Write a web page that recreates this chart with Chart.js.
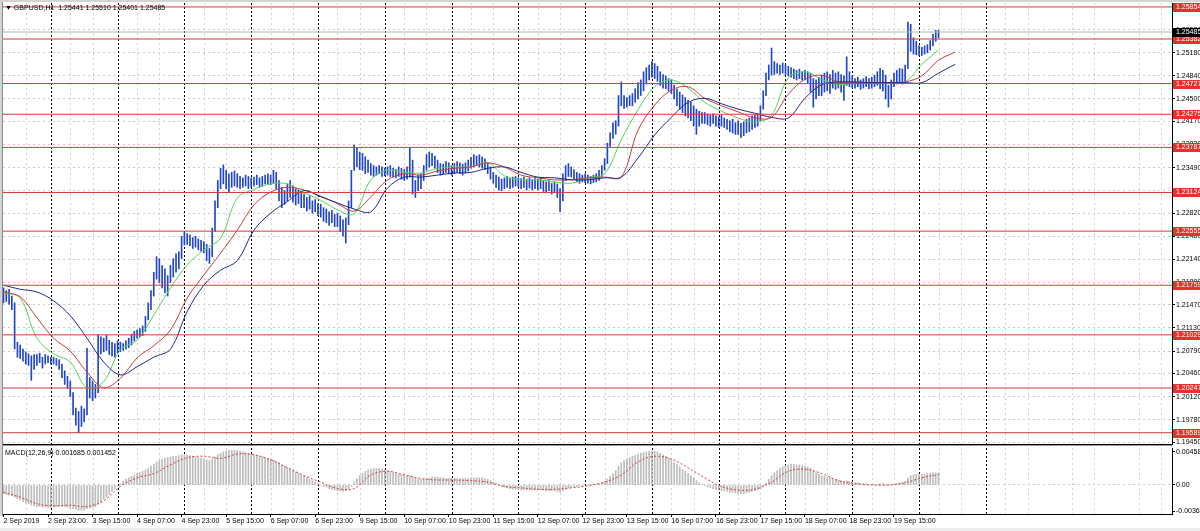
<!DOCTYPE html>
<html>
<head>
<meta charset="utf-8">
<script src="https://cdn.jsdelivr.net/npm/chart.js@4.4.1/dist/chart.umd.min.js"></script>
<style>
  html, body { margin:0; padding:0; background:#fff; }
  #wrap { position:relative; width:1200px; height:531px; overflow:hidden; font-family:"Liberation Sans", Arial, sans-serif; }
  canvas { position:absolute; left:0; }
  #cMain { top:0; }
  #cMacd { top:446px; }
  .txt { position:absolute; font-size:7px; line-height:8px; color:#000; white-space:pre; }
  #frameL { position:absolute; left:0; top:0; width:2px; height:516px; background:#d4d4d4; border-right:1px solid #8a8a8a; }
  #frameT { position:absolute; left:0; top:0; width:1200px; height:2px; background:#d4d4d4; }
  #frameB { position:absolute; left:0; top:528px; width:1200px; height:3px; background:#ececec; }
</style>
</head>
<body>
<div id="wrap">
  <canvas id="cMain" width="1200" height="446"></canvas>
  <canvas id="cMacd" width="1200" height="85"></canvas>
  <div id="frameL"></div><div id="frameT"></div><div id="frameB"></div>
  <div class="txt" style="left:5px;top:4px">▼ GBPUSD,H1  1.25441 1.25510 1.25401 1.25485</div>
  <div class="txt" style="left:5px;top:449px">MACD(12,26,9) 0.001685 0.001452</div>
</div>
<script>
// ---- data: GBPUSD H1, one bar per hour, bar 0 = 2 Sep 07:00 ----
const barHigh = [
  1.2172,1.2168,1.2170,1.2160,1.2150,1.2092, 1.2088,1.2082,1.2078,1.2075,1.2072,1.2074,
  1.2074,1.2076,1.2070,1.2074,1.2072,1.2070, 1.2070,1.2068,1.2066,1.2060,1.2050,1.2042,
  1.2035,1.2018,1.1995,1.1990,1.1998,1.1994, 1.2083,1.2040,1.2035,1.2030,1.2103,1.2100,
  1.2098,1.2102,1.2095,1.2092,1.2090,1.2094, 1.2092,1.2090,1.2094,1.2098,1.2104,1.2108,
  1.2110,1.2112,1.2116,1.2130,1.2150,1.2168, 1.2195,1.2218,1.2215,1.2205,1.2200,1.2190,
  1.2205,1.2215,1.2222,1.2225,1.2248,1.2255, 1.2252,1.2250,1.2246,1.2248,1.2244,1.2242,
  1.2240,1.2236,1.2230,1.2260,1.2300,1.2330, 1.2348,1.2353,1.2345,1.2340,1.2342,1.2344,
  1.2340,1.2336,1.2334,1.2338,1.2336,1.2334, 1.2335,1.2338,1.2334,1.2336,1.2338,1.2340,
  1.2338,1.2345,1.2342,1.2330,1.2320,1.2315, 1.2325,1.2330,1.2322,1.2318,1.2316,1.2312,
  1.2310,1.2305,1.2308,1.2300,1.2302,1.2296, 1.2295,1.2290,1.2288,1.2284,1.2286,1.2280,
  1.2282,1.2278,1.2272,1.2275,1.2300,1.2345, 1.2382,1.2378,1.2372,1.2370,1.2365,1.2360,
  1.2355,1.2352,1.2350,1.2352,1.2350,1.2348, 1.2350,1.2352,1.2348,1.2346,1.2350,1.2348,
  1.2346,1.2350,1.2378,1.2360,1.2330,1.2338, 1.2340,1.2352,1.2368,1.2372,1.2370,1.2366,
  1.2360,1.2355,1.2354,1.2358,1.2356,1.2352, 1.2355,1.2358,1.2356,1.2354,1.2356,1.2360,
  1.2364,1.2368,1.2366,1.2368,1.2365,1.2362, 1.2356,1.2350,1.2342,1.2338,1.2335,1.2332,
  1.2334,1.2336,1.2333,1.2335,1.2336,1.2334, 1.2333,1.2335,1.2332,1.2334,1.2331,1.2333,
  1.2332,1.2334,1.2330,1.2328,1.2330,1.2326, 1.2328,1.2325,1.2318,1.2340,1.2352,1.2355,
  1.2350,1.2346,1.2342,1.2340,1.2338,1.2340, 1.2338,1.2336,1.2338,1.2340,1.2345,1.2352,
  1.2362,1.2385,1.2400,1.2415,1.2418,1.2455, 1.2475,1.2455,1.2452,1.2455,1.2458,1.2465,
  1.2474,1.2478,1.2490,1.2496,1.2500,1.2505, 1.2502,1.2498,1.2490,1.2486,1.2484,1.2480,
  1.2478,1.2470,1.2465,1.2460,1.2456,1.2452, 1.2448,1.2445,1.2440,1.2435,1.2432,1.2430,
  1.2430,1.2428,1.2426,1.2428,1.2425,1.2424, 1.2426,1.2422,1.2420,1.2418,1.2420,1.2415,
  1.2418,1.2414,1.2416,1.2420,1.2422,1.2425, 1.2426,1.2428,1.2440,1.2462,1.2488,1.2500,
  1.2525,1.2505,1.2502,1.2500,1.2503,1.2500, 1.2498,1.2496,1.2494,1.2492,1.2494,1.2490,
  1.2492,1.2490,1.2488,1.2480,1.2478,1.2482, 1.2485,1.2488,1.2490,1.2486,1.2492,1.2488,
  1.2490,1.2486,1.2484,1.2512,1.2490,1.2484, 1.2480,1.2482,1.2478,1.2480,1.2483,1.2480,
  1.2482,1.2485,1.2490,1.2495,1.2492,1.2485, 1.2470,1.2478,1.2488,1.2492,1.2495,1.2494,
  1.2500,1.2563,1.2560,1.2540,1.2535,1.2528, 1.2526,1.2528,1.2530,1.2536,1.2545,1.2551,
  1.2551
];
const barLow = [
  1.2150,1.2152,1.2148,1.2140,1.2082,1.2070, 1.2068,1.2064,1.2060,1.2058,1.2036,1.2052,
  1.2058,1.2062,1.2054,1.2060,1.2062,1.2060, 1.2060,1.2058,1.2052,1.2040,1.2030,1.2024,
  1.2012,1.1985,1.1970,1.1959,1.1968,1.1975, 1.1985,1.2010,1.2006,1.2010,1.2018,1.2075,
  1.2078,1.2080,1.2074,1.2072,1.2070,1.2076, 1.2078,1.2080,1.2082,1.2084,1.2088,1.2094,
  1.2098,1.2100,1.2102,1.2108,1.2125,1.2140, 1.2160,1.2185,1.2180,1.2172,1.2165,1.2160,
  1.2180,1.2188,1.2195,1.2200,1.2215,1.2235, 1.2236,1.2234,1.2230,1.2232,1.2228,1.2226,
  1.2224,1.2212,1.2208,1.2218,1.2255,1.2290, 1.2318,1.2325,1.2318,1.2312,1.2320,1.2322,
  1.2320,1.2318,1.2320,1.2322,1.2318,1.2320, 1.2322,1.2324,1.2320,1.2322,1.2325,1.2324,
  1.2324,1.2326,1.2318,1.2300,1.2290,1.2295, 1.2300,1.2305,1.2298,1.2294,1.2296,1.2290,
  1.2290,1.2285,1.2288,1.2282,1.2284,1.2278, 1.2276,1.2270,1.2268,1.2264,1.2268,1.2262,
  1.2262,1.2255,1.2248,1.2238,1.2265,1.2290, 1.2345,1.2350,1.2346,1.2345,1.2340,1.2342,
  1.2338,1.2336,1.2338,1.2340,1.2336,1.2337, 1.2338,1.2336,1.2335,1.2334,1.2336,1.2332,
  1.2330,1.2332,1.2335,1.2310,1.2305,1.2315, 1.2318,1.2330,1.2345,1.2350,1.2352,1.2348,
  1.2342,1.2338,1.2340,1.2342,1.2340,1.2338, 1.2340,1.2342,1.2340,1.2338,1.2341,1.2344,
  1.2348,1.2350,1.2352,1.2350,1.2348,1.2346, 1.2340,1.2332,1.2326,1.2320,1.2316,1.2315,
  1.2318,1.2320,1.2318,1.2320,1.2322,1.2320, 1.2318,1.2320,1.2316,1.2319,1.2316,1.2318,
  1.2316,1.2318,1.2314,1.2312,1.2315,1.2310, 1.2312,1.2305,1.2284,1.2300,1.2330,1.2336,
  1.2335,1.2332,1.2328,1.2326,1.2328,1.2327, 1.2326,1.2325,1.2327,1.2328,1.2330,1.2336,
  1.2345,1.2355,1.2380,1.2392,1.2398,1.2410, 1.2440,1.2436,1.2438,1.2440,1.2440,1.2445,
  1.2450,1.2455,1.2462,1.2472,1.2478,1.2482, 1.2480,1.2476,1.2470,1.2466,1.2465,1.2462,
  1.2458,1.2450,1.2440,1.2435,1.2430,1.2425, 1.2422,1.2418,1.2410,1.2398,1.2410,1.2414,
  1.2414,1.2412,1.2410,1.2414,1.2410,1.2408, 1.2410,1.2408,1.2405,1.2402,1.2400,1.2398,
  1.2398,1.2393,1.2396,1.2400,1.2402,1.2405, 1.2408,1.2410,1.2418,1.2435,1.2455,1.2478,
  1.2485,1.2486,1.2488,1.2486,1.2488,1.2486, 1.2484,1.2482,1.2480,1.2478,1.2480,1.2478,
  1.2478,1.2474,1.2460,1.2438,1.2450,1.2455, 1.2455,1.2460,1.2462,1.2458,1.2466,1.2464,
  1.2466,1.2460,1.2448,1.2470,1.2468,1.2466, 1.2466,1.2468,1.2464,1.2466,1.2468,1.2465,
  1.2466,1.2468,1.2470,1.2465,1.2462,1.2450, 1.2438,1.2450,1.2468,1.2472,1.2474,1.2472,
  1.2475,1.2495,1.2520,1.2516,1.2515,1.2514, 1.2514,1.2516,1.2518,1.2522,1.2528,1.2535,
  1.2540
];

// Alligator lines, read every maStep bars (green lips, red teeth, blue jaw)
const maStep = 6;
const lips = [1.2165,1.2157,1.2098,1.2075,1.2063,1.2025,1.2034,1.2081,1.2095,1.2132,
  1.2172,1.2206,1.2228,1.2245,1.2304,1.2317,1.2325,1.2325,1.2312,1.2301,
  1.2287,1.2281,1.2331,1.2345,1.2342,1.2341,1.2348,1.2350,1.2350,1.2356,
  1.2337,1.2331,1.2331,1.2328,1.2326,1.2334,1.2340,1.2390,1.2434,1.2468,
  1.2478,1.2466,1.2445,1.2432,1.2422,1.2416,1.2426,1.2481,1.2490,1.2479,
  1.2471,1.2474,1.2474,1.2474,1.2475,1.2501,1.2522];
const teeth = [1.2166,1.2159,1.2128,1.2098,1.2079,1.2048,1.2025,1.2039,1.2069,1.2087,
  1.2110,1.2157,1.2191,1.2223,1.2257,1.2294,1.2313,1.2320,1.2316,1.2307,
  1.2296,1.2285,1.2306,1.2331,1.2340,1.2338,1.2344,1.2348,1.2350,1.2356,
  1.2350,1.2338,1.2334,1.2331,1.2331,1.2334,1.2335,1.2335,1.2404,1.2441,
  1.2463,1.2468,1.2451,1.2440,1.2431,1.2422,1.2423,1.2457,1.2479,1.2485,
  1.2475,1.2474,1.2474,1.2474,1.2475,1.2484,1.2507,1.2519];
const jaw = [1.2176,1.2170,1.2166,1.2153,1.2131,1.2098,1.2063,1.2044,1.2056,1.2070,
  1.2082,1.2137,1.2176,1.2198,1.2212,1.2257,1.2282,1.2299,1.2315,1.2306,
  1.2297,1.2288,1.2284,1.2319,1.2335,1.2335,1.2338,1.2341,1.2342,1.2348,
  1.2350,1.2342,1.2335,1.2334,1.2331,1.2331,1.2334,1.2335,1.2363,1.2397,
  1.2423,1.2445,1.2451,1.2443,1.2435,1.2429,1.2423,1.2422,1.2451,1.2471,
  1.2475,1.2475,1.2474,1.2474,1.2474,1.2474,1.2488,1.2501];

const levels = [1.25854,1.25382,1.24727,1.24275,1.23787,1.23124,1.22555,1.21759,1.21029,1.20247,1.19589];
const bidPrice = 1.25485;
const yTicks = [1.19450,1.19780,1.20120,1.20460,1.20790,1.21130,1.21470,1.21800,1.22140,1.22480,
  1.22820,1.23150,1.23490,1.23830,1.24170,1.24500,1.24840,1.25180,1.25520];

const macdHist = [
  -0.0012,-0.0013,-0.0014,-0.0015,-0.0017,-0.0019, -0.0021,-0.0023,-0.0025,-0.0026,-0.0028,-0.0029,
  -0.0030,-0.0030,-0.0031,-0.0031,-0.0031,-0.0031, -0.0031,-0.0030,-0.0030,-0.0030,-0.0030,-0.0031,
  -0.0032,-0.0033,-0.0034,-0.0035,-0.0035,-0.0035, -0.0033,-0.0032,-0.0031,-0.0030,-0.0027,-0.0024,
  -0.0020,-0.0017,-0.0013,-0.0009,-0.0005,-0.0001, 0.0002,0.0005,0.0008,0.0010,0.0012,0.0014,
  0.0016,0.0017,0.0019,0.0021,0.0023,0.0026, 0.0029,0.0032,0.0034,0.0036,0.0037,0.0038,
  0.0039,0.0040,0.0040,0.0041,0.0042,0.0042, 0.0042,0.0041,0.0040,0.0039,0.0038,0.0037,
  0.0036,0.0035,0.0034,0.0036,0.0039,0.0042, 0.0044,0.0046,0.0047,0.0048,0.0048,0.0048,
  0.0048,0.0047,0.0046,0.0045,0.0044,0.0043, 0.0042,0.0041,0.0040,0.0039,0.0038,0.0037,
  0.0036,0.0035,0.0033,0.0031,0.0028,0.0026, 0.0024,0.0022,0.0020,0.0018,0.0016,0.0014,
  0.0012,0.0010,0.0008,0.0006,0.0004,0.0002, 0.0000,-0.0002,-0.0003,-0.0005,-0.0006,-0.0007,
  -0.0008,-0.0008,-0.0009,-0.0008,-0.0006,-0.0002, 0.0004,0.0009,0.0013,0.0016,0.0019,0.0021,
  0.0022,0.0023,0.0023,0.0023,0.0022,0.0021, 0.0020,0.0019,0.0017,0.0016,0.0015,0.0014,
  0.0013,0.0012,0.0013,0.0011,0.0009,0.0008, 0.0008,0.0008,0.0009,0.0010,0.0011,0.0011,
  0.0011,0.0010,0.0010,0.0009,0.0009,0.0009, 0.0009,0.0009,0.0009,0.0009,0.0009,0.0009,
  0.0010,0.0010,0.0010,0.0010,0.0010,0.0009, 0.0008,0.0006,0.0004,0.0002,0.0000,-0.0002,
  -0.0003,-0.0004,-0.0005,-0.0006,-0.0006,-0.0007, -0.0007,-0.0007,-0.0007,-0.0007,-0.0007,-0.0007,
  -0.0007,-0.0007,-0.0007,-0.0008,-0.0008,-0.0008, -0.0008,-0.0009,-0.0010,-0.0008,-0.0006,-0.0004,
  -0.0003,-0.0002,-0.0002,-0.0001,-0.0001,0.0000, 0.0000,0.0000,0.0001,0.0001,0.0002,0.0003,
  0.0005,0.0008,0.0012,0.0016,0.0020,0.0026, 0.0031,0.0034,0.0036,0.0038,0.0040,0.0041,
  0.0043,0.0044,0.0045,0.0046,0.0047,0.0047, 0.0047,0.0046,0.0044,0.0042,0.0040,0.0037,
  0.0034,0.0031,0.0028,0.0025,0.0022,0.0019, 0.0016,0.0013,0.0010,0.0006,0.0003,0.0001,
  -0.0001,-0.0003,-0.0004,-0.0005,-0.0006,-0.0007, -0.0008,-0.0008,-0.0009,-0.0010,-0.0010,-0.0011,
  -0.0011,-0.0012,-0.0012,-0.0011,-0.0010,-0.0009, -0.0008,-0.0007,-0.0005,-0.0002,0.0003,0.0008,
  0.0013,0.0017,0.0020,0.0023,0.0025,0.0027, 0.0028,0.0029,0.0029,0.0028,0.0028,0.0027,
  0.0026,0.0025,0.0023,0.0020,0.0017,0.0015, 0.0013,0.0012,0.0011,0.0010,0.0009,0.0008,
  0.0007,0.0006,0.0005,0.0006,0.0005,0.0004, 0.0003,0.0003,0.0002,0.0002,0.0002,0.0001,
  0.0001,0.0001,0.0001,0.0002,0.0002,0.0001, 0.0000,0.0000,0.0001,0.0002,0.0003,0.0004,
  0.0005,0.0010,0.0013,0.0014,0.0015,0.0015, 0.0015,0.0015,0.0016,0.0016,0.0017,0.0017,
  0.001685
];
const macdSignal = [-0.0010,-0.0017,-0.0026,-0.0029,-0.0028,-0.0030,-0.0022,-0.0002,0.0010,0.0016,
  0.0028,0.0038,0.0040,0.0037,0.0043,0.0042,0.0035,0.0024,0.0013,0.0004,
  -0.0005,-0.0005,0.0014,0.0019,0.0014,0.0009,0.0007,0.0007,0.0006,0.0004,
  -0.0002,-0.0004,-0.0006,-0.0006,-0.0004,-0.0001,0.0004,0.0014,0.0032,0.0040,
  0.0036,0.0024,0.0010,-0.0002,-0.0007,-0.0006,0.0004,0.0019,0.0022,0.0016,
  0.0006,0.0002,0.0000,0.0000,0.0003,0.0010,0.00145];
const macdTicks = [-0.00362, 0, 0.004585];
const macdTickText = ['-0.00362', '0.00', '0.004585'];

const xLabelBars = [0,16,32,48,64,80,96,112,128,144,160,176,192,208,224,240,256,272,288,304,320];
const xLabels = ['2 Sep 2019','2 Sep 23:00','3 Sep 15:00','4 Sep 07:00','4 Sep 23:00','5 Sep 15:00',
  '6 Sep 07:00','6 Sep 23:00','9 Sep 15:00','10 Sep 07:00','10 Sep 23:00','11 Sep 15:00',
  '12 Sep 07:00','12 Sep 23:00','13 Sep 15:00','16 Sep 07:00','16 Sep 23:00','17 Sep 15:00',
  '18 Sep 07:00','18 Sep 23:00','19 Sep 15:00'];
// midnight bars (period separators)
const daySeparators = [17,41,65,89,113,137,161,185,209,233,257,281,305,329,353];

// ---- drawing ----
Chart.defaults.font.family = '"Liberation Sans", Arial, sans-serif';
Chart.defaults.font.size = 7;
Chart.defaults.color = '#000';

const X_MIN = -0.18, X_MAX = 419.9, AXIS_W = 28;
const fixY = s => { s.width = AXIS_W; s.paddingTop = 0; s.paddingBottom = 0; };

// dotted vertical grid + black day separators
const vGrid = {
  id: 'vGrid',
  beforeDatasetsDraw(chart) {
    const {ctx, chartArea: a, scales: {x}} = chart;
    ctx.save();
    ctx.lineWidth = 1;
    ctx.setLineDash([2, 3]);
    ctx.strokeStyle = '#d2d2d2';
    for (let b = 8; b <= X_MAX; b += 8) {
      if ((b / 8) % 3 === 2) continue;
      const px = Math.round(x.getPixelForValue(b)) + 0.5;
      ctx.beginPath(); ctx.moveTo(px, a.top); ctx.lineTo(px, a.bottom); ctx.stroke();
    }
    ctx.setLineDash([2, 2]);
    ctx.strokeStyle = '#000';
    daySeparators.forEach(b => {
      const px = Math.round(x.getPixelForValue(b)) + 0.5;
      ctx.beginPath(); ctx.moveTo(px, a.top); ctx.lineTo(px, a.bottom); ctx.stroke();
    });
    ctx.restore();
  }
};

const priceTags = {
  id: 'priceTags',
  afterDraw(chart) {
    const {ctx, chartArea: a, scales: {y}} = chart;
    ctx.save();
    ctx.font = '7px "Liberation Sans", Arial, sans-serif';
    ctx.textBaseline = 'middle';
    const tag = (v, bg) => {
      const py = Math.round(y.getPixelForValue(v));
      ctx.fillStyle = bg;
      ctx.fillRect(a.right + 1, py - 4, 30, 9);
      ctx.fillStyle = '#fff';
      ctx.fillText(v.toFixed(5), a.right + 4, py + 0.5);
    };
    levels.forEach(v => tag(v, '#e5322d'));
    tag(bidPrice, '#000');
    ctx.fillStyle = '#000';
    ctx.fillRect(0, a.bottom, a.right, 1);
    ctx.fillStyle = '#9a9a9a';
    ctx.fillRect(0, a.bottom + 1, a.right, 1);
    ctx.restore();
  }
};

const maLine = (vals, color) => ({
  type: 'line', data: vals.map((v, j) => ({x: j * maStep, y: v})),
  borderColor: color, borderWidth: 1, pointRadius: 0, tension: 0.35, order: 2
});
const hLine = (v, color) => ({
  type: 'line', data: [{x: X_MIN, y: v}, {x: X_MAX, y: v}],
  borderColor: color, borderWidth: 1, pointRadius: 0, order: 1
});

new Chart(document.getElementById('cMain'), {
  type: 'bar',
  data: { datasets: [
    { type: 'bar', data: barHigh.map((h, i) => ({x: i, y: [barLow[i], h]})),
      backgroundColor: '#2246c8', barThickness: 1, grouped: false, order: 4 },
    hLine(bidPrice, '#b4b4b4'),
    ...levels.map(v => hLine(v, '#d23c3c')),
    maLine(jaw, '#1c2a8c'),
    maLine(teeth, '#c83c3c'),
    maLine(lips, '#55d455')
  ]},
  options: {
    responsive: false, animation: false, events: [],
    layout: { padding: {left: 3, top: 3, right: 0, bottom: 2} },
    plugins: { legend: {display: false}, tooltip: {enabled: false} },
    scales: {
      x: { type: 'linear', display: false, min: X_MIN, max: X_MAX, offset: false },
      y: { position: 'right', min: 1.19423, max: 1.25912, beginAtZero: false,
        afterFit: fixY,
        afterBuildTicks: s => { s.ticks = yTicks.map(v => ({value: v})); },
        ticks: { callback: v => v.toFixed(5), padding: 1, autoSkip: false },
        grid: { color: '#cccccc', tickLength: 3, tickColor: '#000' },
        border: { display: true, color: '#000', dash: [2, 3] } }
    }
  },
  plugins: [vGrid, priceTags]
});

new Chart(document.getElementById('cMacd'), {
  type: 'bar',
  data: { datasets: [
    { type: 'bar', data: macdHist.map((v, i) => ({x: i, y: v})),
      backgroundColor: '#bcbcbc', barThickness: 1, grouped: false, order: 2 },
    { type: 'line', data: macdSignal.map((v, j) => ({x: j * maStep, y: v})),
      borderColor: '#d03c3c', borderWidth: 1, borderDash: [2, 2], pointRadius: 0, tension: 0.35, order: 1 }
  ]},
  options: {
    responsive: false, animation: false, events: [],
    layout: { padding: {left: 3, top: 2, right: 0, bottom: 0} },
    plugins: { legend: {display: false}, tooltip: {enabled: false} },
    scales: {
      x: { type: 'linear', min: X_MIN, max: X_MAX, offset: false, position: 'bottom',
        afterBuildTicks: s => { s.ticks = xLabelBars.map(v => ({value: v})); },
        afterFit: s => { s.height = 17; s.paddingLeft = 0; s.paddingRight = 0; },
        ticks: { autoSkip: false, maxRotation: 0, minRotation: 0, align: 'start', padding: 0,
          callback: (v, i) => xLabels[i] },
        grid: { drawOnChartArea: false, tickLength: 3, tickColor: '#000', offset: false },
        border: { display: true, color: '#000' } },
      y: { position: 'right', min: -0.00403, max: 0.00514, beginAtZero: false,
        afterFit: fixY,
        afterBuildTicks: s => { s.ticks = macdTicks.map(v => ({value: v})); },
        ticks: { callback: (v, i) => macdTickText[i], padding: 1, autoSkip: false },
        grid: { color: c => (c.tick && c.tick.value === 0) ? '#cccccc' : 'rgba(0,0,0,0)',
          tickLength: 3, tickColor: '#000' },
        border: { display: true, color: '#000', dash: [2, 3] } }
    }
  },
  plugins: [vGrid]
});
</script>
</body>
</html>
